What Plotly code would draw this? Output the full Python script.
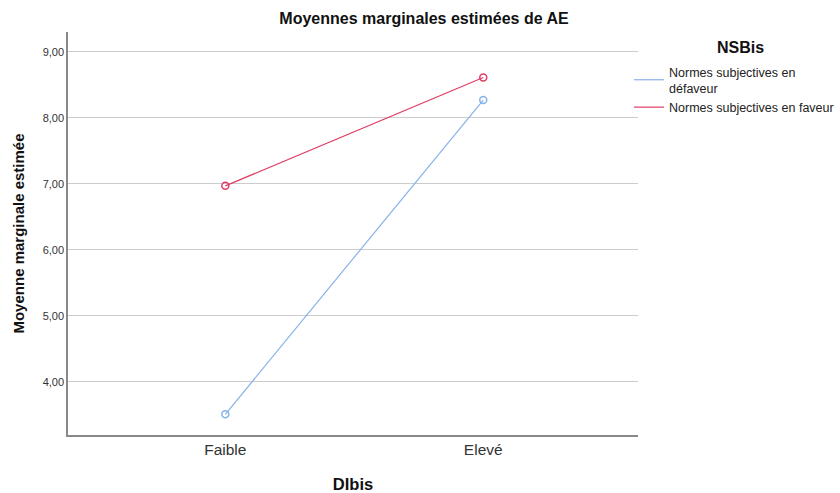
import plotly.graph_objects as go

categories = ["Faible", "Elevé"]
defaveur = [3.51, 8.27]
faveur = [6.97, 8.61]
series_names = ["Normes subjectives en<br>défaveur", "Normes subjectives en faveur"]
legend_title = "NSBis"
y_ticks = [4, 5, 6, 7, 8, 9]
y_tick_labels = ["4,00", "5,00", "6,00", "7,00", "8,00", "9,00"]

blue = "#86b2ea"
red = "#e03d63"
colors = [blue, red]

fig = go.Figure()
for vals, c in zip([defaveur, faveur], colors):
    fig.add_trace(go.Scatter(x=categories, y=vals, mode="lines+markers", showlegend=False,
                             line=dict(color=c, width=1.2),
                             marker=dict(symbol="circle-open", size=7, color=c, line=dict(width=1.5))))
for name, c in zip(series_names, colors):
    fig.add_trace(go.Scatter(x=[None], y=[None], name=name, mode="lines",
                             line=dict(color=c, width=1.2)))

font_family = "Liberation Sans, Arial, sans-serif"
fig.update_layout(
    width=840, height=493,
    margin=dict(l=68, r=202, t=32, b=58, autoexpand=False),
    plot_bgcolor="white", paper_bgcolor="white",
    font=dict(family=font_family, color="#222"),
    title=dict(text="<b>Moyennes marginales estimées de AE</b>", x=424/840, xanchor="center", xref="container",
               y=1 - 18/493, yanchor="middle", yref="container", font=dict(size=16, color="#111")),
    xaxis=dict(type="category", range=[-0.61, 1.6], showgrid=False, showline=True, automargin=False,
               linecolor="#888", linewidth=1.5, ticks="", tickfont=dict(size=15.5, color="#333"),
               title=dict(text="<b>DIbis</b>", font=dict(size=16.5, color="#111"), standoff=22)),
    yaxis=dict(range=[3.197, 9.3], tickvals=y_ticks, ticktext=y_tick_labels, showgrid=True, automargin=False,
               gridcolor="#cccccc", gridwidth=1, showline=True, linecolor="#888", linewidth=1.5,
               ticks="", zeroline=False, tickfont=dict(size=11, color="#333"),
               title=dict(text="<b>Moyenne marginale estimée</b>", font=dict(size=15, color="#111"), standoff=14)),
    legend=dict(xref="container", yref="container", x=629/840, xanchor="left", y=1 - 57/493, yanchor="top",
                bgcolor="rgba(0,0,0,0)", font=dict(size=12.5, color="#222"), itemwidth=30),
    annotations=[dict(text="<b>" + legend_title + "</b>", xref="paper", yref="paper",
                      x=(741 - 68) / 570, y=(435 - 47) / 403, xanchor="center", yanchor="middle",
                      showarrow=False, font=dict(size=16, color="#111"))],
)

fig.write_html("out.html", config={"displayModeBar": False},
               post_script="document.body.style.margin='0';document.body.style.padding='0';")
